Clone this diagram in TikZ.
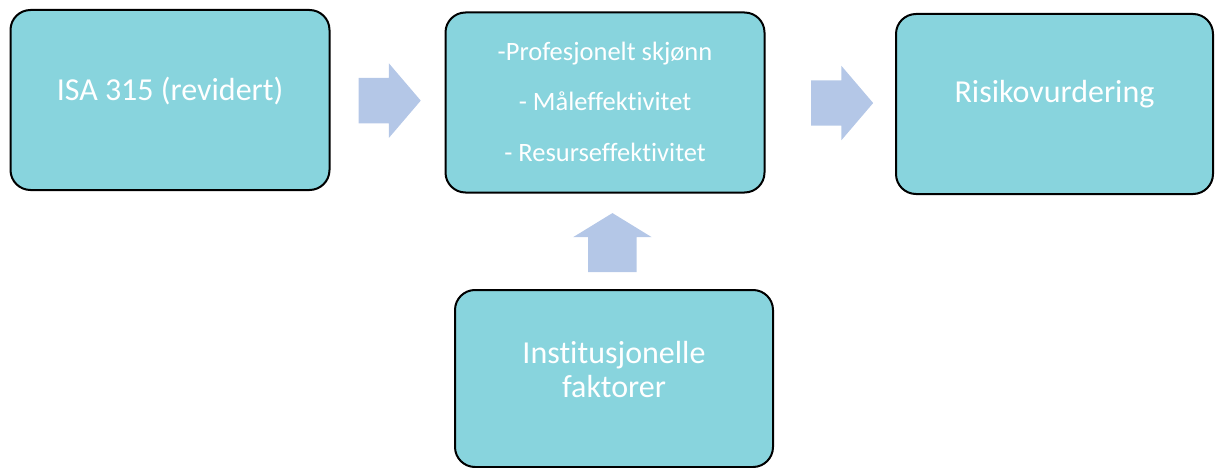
\documentclass[tikz,border=0pt]{standalone}
\usepackage{fontspec}
\setmainfont{Carlito}[Ligatures=NoCommon]
\usepackage{xcolor}
\usetikzlibrary{shapes.arrows,calc}

\definecolor{boxteal}{HTML}{88D4DD}
\definecolor{arrowblue}{HTML}{B4C7E7}

\begin{document}
\begin{tikzpicture}[x=1pt,y=-1pt,
    box/.style={rectangle, rounded corners=20pt, draw=black, line width=2pt,
        fill=boxteal, text=white, minimum width=319pt, minimum height=180pt,
        align=center, inner sep=0pt},
    bigtext/.style={font=\fontsize{32}{34}\selectfont},
    listtext/.style={font=\fontsize{26.5}{50.5}\selectfont},
    blockarrow/.style={single arrow, fill=arrowblue, draw=none, anchor=tail,
        inner xsep=0pt, minimum height=62pt}]

    % Fix the page size
    \useasboundingbox (0,0) rectangle (1215,468);

    % Draw the four boxes
    \node[box, bigtext, text height=22pt, text depth=20pt] (isa) at (170,100) {ISA 315 (revidert)};
    \node[box, listtext, text height=127pt, text depth=10pt] (vurd) at (605,102.5)
        {-Profesjonelt skjønn\\- Måleffektivitet\\- Resurseffektivitet};
    \node[box, bigtext, text height=22pt, text depth=24pt, minimum width=317pt] (risiko) at (1054.5,104) {Risikovurdering};
    \node[box, bigtext, text height=56pt, text depth=19pt, minimum width=318pt, minimum height=177pt] (inst) at (614,378.5)
        {Institusjonelle\\faktorer};

    % Block arrows between the boxes
    \node[blockarrow, inner ysep=22.5pt, single arrow head extend=14.5pt, single arrow tip angle=99]
        (pil1) at ($(isa.east)!0.246!(vurd.west)$) {};
    \node[blockarrow, inner ysep=22.5pt, single arrow head extend=14.5pt, single arrow tip angle=99]
        (pil2) at ($(vurd.east)!0.351!(risiko.west)$) {};
    \node[blockarrow, rotate=90, minimum height=59pt, inner ysep=24pt, single arrow head extend=15pt, single arrow tip angle=117]
        (pil3) at ($(vurd.south)!0.825!(inst.north)$) {};
\end{tikzpicture}
\end{document}
